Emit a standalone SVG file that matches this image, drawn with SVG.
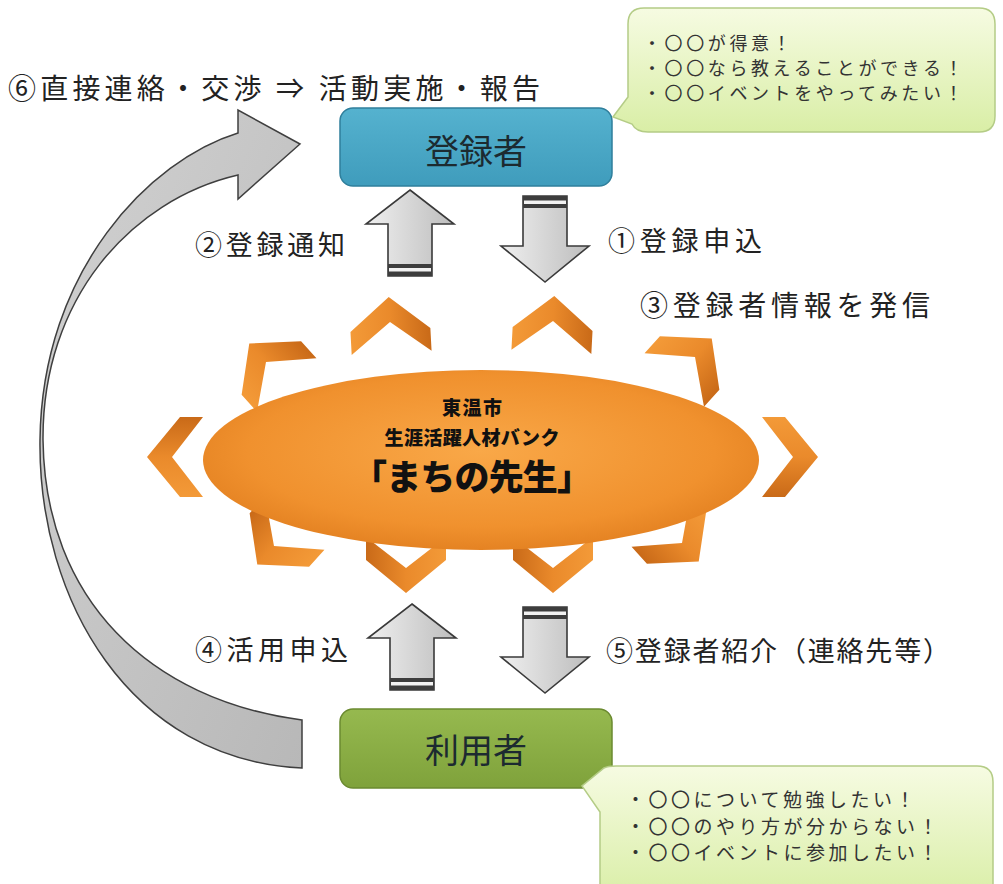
<svg xmlns="http://www.w3.org/2000/svg" width="1003" height="884" viewBox="0 0 1003 884">
<defs>
<linearGradient id="gArrow" x1="0" y1="0" x2="1" y2="0">
<stop offset="0" stop-color="#efefef"/><stop offset="1" stop-color="#bdbdbd"/>
</linearGradient>
<linearGradient id="gCurve" x1="0" y1="0" x2="1" y2="1">
<stop offset="0" stop-color="#d2d2d2"/><stop offset="1" stop-color="#b8b8b8"/>
</linearGradient>
<radialGradient id="gEll" cx="0.5" cy="0.45" r="0.6">
<stop offset="0" stop-color="#f9a848"/><stop offset="0.7" stop-color="#f0912e"/><stop offset="1" stop-color="#e07d1e"/>
</radialGradient>
<linearGradient id="gChev" x1="0" y1="0" x2="1" y2="0">
<stop offset="0" stop-color="#f39a38"/><stop offset="0.5" stop-color="#ea8a2b"/><stop offset="1" stop-color="#c96a18"/>
</linearGradient>
<linearGradient id="gBlue" x1="0" y1="0" x2="0" y2="1">
<stop offset="0" stop-color="#55b2cf"/><stop offset="1" stop-color="#3f9cbc"/>
</linearGradient>
<linearGradient id="gGreen" x1="0" y1="0" x2="0" y2="1">
<stop offset="0" stop-color="#96b94f"/><stop offset="1" stop-color="#7fa23b"/>
</linearGradient>
<linearGradient id="gBubble" x1="0" y1="0" x2="0" y2="1">
<stop offset="0" stop-color="#f6fbe2"/><stop offset="1" stop-color="#d9eea6"/>
</linearGradient>
<path id="chev" d="M-40,8 L0,-25 L40,8 L40,31 L0,0 L-40,31 Z"/>
<g id="upArrow">
<path d="M0,0 L44,34 L22,34 L22,86 L-22,86 L-22,34 L-44,34 Z" fill="url(#gArrow)" stroke="#3a3a3a" stroke-width="1.6" stroke-linejoin="miter"/>
<rect x="-22" y="74" width="44" height="12" fill="#3d3d3d"/>
<rect x="-21" y="78" width="42" height="3.5" fill="#f2f2f2"/>
</g>
<g id="downArrow">
<path d="M0,0 L-44,-36 L-22,-36 L-22,-86 L22,-86 L22,-36 L44,-36 Z" fill="url(#gArrow)" stroke="#3a3a3a" stroke-width="1.6"/>
<rect x="-22" y="-86" width="44" height="12" fill="#3d3d3d"/>
<rect x="-21" y="-81.5" width="42" height="3.5" fill="#f2f2f2"/>
</g>
</defs>
<style>
text{font-family:"Noto Sans CJK JP","Noto Sans",sans-serif;fill:#222}
.lbl{font-size:27px}
.bub{font-size:18px;fill:#333}
.box{font-size:34px;fill:#1c2a30;text-anchor:middle}
.ctr{font-weight:900;text-anchor:middle;fill:#111}
</style>
<rect width="1003" height="884" fill="#ffffff"/>

<g id="connectors">
<path id="curve6" d="M302,720 C150,700 45,600 43,440 C42,300 130,200 238,175 L238,199 L300,144 L238,110 L238,133 C150,160 42,270 40,440 C38,600 130,760 302,768 Z" fill="url(#gCurve)" stroke="#3f3f3f" stroke-width="1.5" stroke-linejoin="miter"/>
<use href="#upArrow" x="410" y="190"/>
<use href="#downArrow" x="545" y="282"/>
<use href="#upArrow" x="412" y="604"/>
<use href="#downArrow" x="545" y="693"/>
<g id="chevrons" fill="url(#gChev)">
<use href="#chev" transform="translate(390,322) rotate(-3)"/>
<use href="#chev" transform="translate(553,321) rotate(3)"/>
<use href="#chev" transform="translate(266,362) rotate(-42)"/>
<use href="#chev" transform="translate(695,357) rotate(42)"/>
<use href="#chev" transform="translate(172,457) rotate(-90)"/>
<use href="#chev" transform="translate(793,457) rotate(90)"/>
<use href="#chev" transform="translate(274,546) rotate(-138)"/>
<use href="#chev" transform="translate(682,543) rotate(138)"/>
<use href="#chev" transform="translate(406,568) rotate(180)"/>
<use href="#chev" transform="translate(553,568) rotate(180)"/>
</g>
<text class="lbl" x="8" y="99" style="font-size:28px" textLength="532" lengthAdjust="spacing">⑥直接連絡・交渉 ⇒ 活動実施・報告</text>
<text class="lbl" x="195" y="255" textLength="150" lengthAdjust="spacing">②登録通知</text>
<text class="lbl" x="608" y="251" textLength="154" lengthAdjust="spacing">①登録申込</text>
<text class="lbl" x="640" y="316" style="font-size:28px" textLength="290" lengthAdjust="spacing">③登録者情報を発信</text>
<text class="lbl" x="195" y="660" textLength="153" lengthAdjust="spacing">④活用申込</text>
<text class="lbl" x="606" y="661" textLength="344" lengthAdjust="spacing">⑤登録者紹介（連絡先等）</text>
</g>

<g id="bank">
<ellipse cx="481" cy="460" rx="278" ry="90" fill="url(#gEll)"/>
<text class="ctr" x="472" y="415" style="font-size:19px" textLength="60">東温市</text>
<text class="ctr" x="472" y="445" style="font-size:19px" textLength="175" lengthAdjust="spacing">生涯活躍人材バンク</text>
<text class="ctr" x="472" y="490" style="font-size:35px" textLength="240" lengthAdjust="spacing">「まちの先生」</text>
</g>

<g id="registrant">
<rect x="340" y="108" width="272" height="78" rx="13" fill="url(#gBlue)" stroke="#2f7f9c" stroke-width="1.5"/>
<text class="box" x="476" y="164">登録者</text>
</g>

<g id="user">
<rect x="340" y="709" width="272" height="79" rx="13" fill="url(#gGreen)" stroke="#6b8a30" stroke-width="1.5"/>
<text class="box" x="476" y="763">利用者</text>
</g>

<g id="bubbleTop">
<path d="M644,8 H979 Q995,8 995,24 V116 Q995,132 979,132 H648 Q636,132 632,124 L613,117 L628,97 V24 Q628,8 644,8 Z" fill="url(#gBubble)" stroke="#b4cc86" stroke-width="1.5"/>
<text class="bub" x="643" y="50" style="letter-spacing:3.6px">・〇〇が得意！</text>
<text class="bub" x="643" y="75" style="letter-spacing:3.6px">・〇〇なら教えることができる！</text>
<text class="bub" x="643" y="100" style="letter-spacing:3.6px">・〇〇イベントをやってみたい！</text>
</g>

<g id="bubbleBottom">
<path d="M616,766 H977 Q993,766 993,782 V900 H600 V812 L582,786 L604,768 Q608,766 616,766 Z" fill="url(#gBubble)" stroke="#b4cc86" stroke-width="1.5"/>
<text class="bub" x="626" y="807" style="font-size:19px;letter-spacing:3.5px">・〇〇について勉強したい！</text>
<text class="bub" x="626" y="834" style="font-size:19px;letter-spacing:3.5px">・〇〇のやり方が分からない！</text>
<text class="bub" x="626" y="860" style="font-size:19px;letter-spacing:3.5px">・〇〇イベントに参加したい！</text>
</g>
</svg>
